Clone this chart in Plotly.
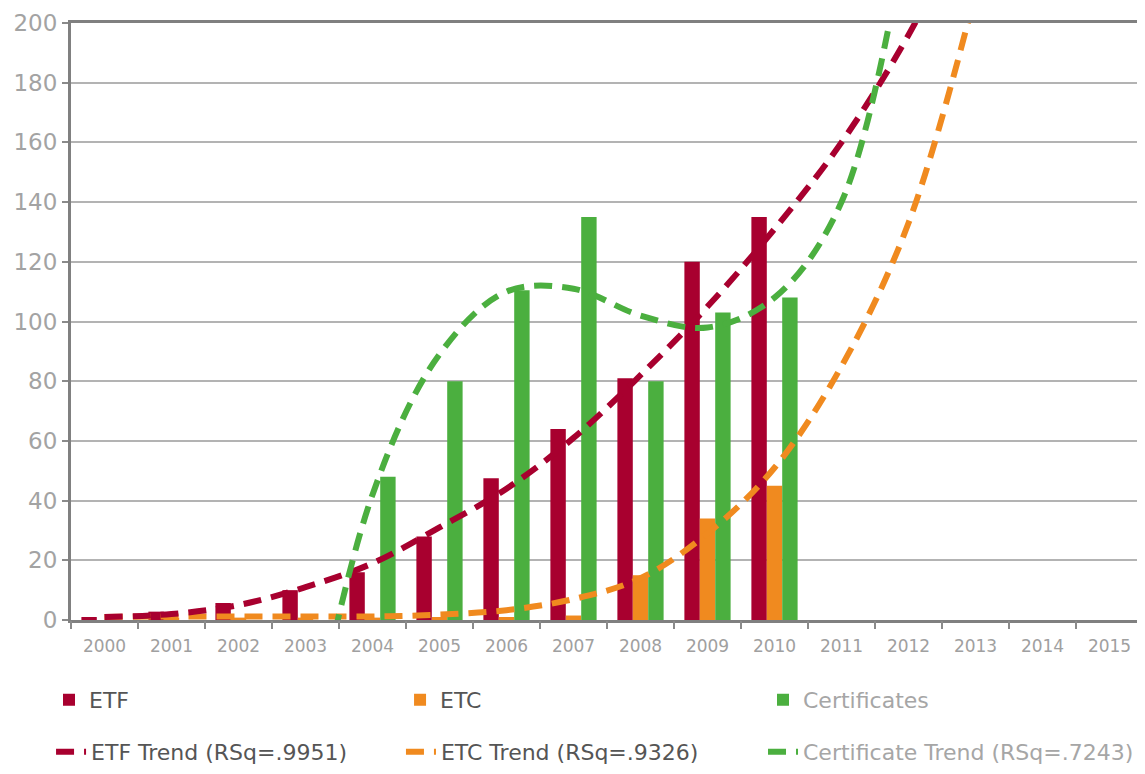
import plotly.graph_objects as go

years = [2000, 2001, 2002, 2003, 2004, 2005, 2006, 2007, 2008, 2009, 2010]
etf = [1, 2.8, 5.7, 10, 16, 28, 47.5, 64, 81, 120, 135]
etc = [0, 0.8, 0.8, 0.8, 0.8, 1, 1, 1.5, 15, 34, 45]
certificates = [0, 0, 0, 0, 48, 80, 110.5, 135, 80, 103, 108]

trend_years_etf = [2000, 2001, 2002, 2003, 2004, 2005, 2006, 2007, 2008, 2009, 2010, 2011, 2012, 2013]
etf_trend = [1, 2, 5, 11, 19, 31, 44, 61, 82, 105, 131, 160, 196, 240]
trend_years_etc = [2000, 2001, 2002, 2003, 2004, 2005, 2006, 2007, 2008, 2009, 2010, 2011, 2012, 2013]
etc_trend = [1, 1.2, 1.2, 1.2, 1.2, 1.8, 3.3, 7, 14, 29, 51, 85, 133, 210]
trend_years_cert = [2003, 2004, 2005, 2006, 2007, 2008, 2009, 2010, 2011, 2012]
cert_trend = [-50, 42, 89, 110, 111, 102, 98, 108, 140, 235]

x_labels = [str(y) for y in range(2000, 2016)]
y_ticks = [0, 20, 40, 60, 80, 100, 120, 140, 160, 180, 200]

C_ETF = "#A8002F"
C_ETC = "#F08A1F"
C_CERT = "#4BAF3F"
DARK = "#555555"
LIGHT = "#a6a6a6"
FONT = "DejaVu Sans"

fig = go.Figure()
fig.add_trace(go.Bar(x=years, y=etf, name=f"<span style='color:{DARK}'>ETF</span>",
                     marker=dict(color=C_ETF, line=dict(width=0)), legend="legend"))
fig.add_trace(go.Bar(x=years, y=etc, name=f"<span style='color:{DARK}'>ETC</span>",
                     marker=dict(color=C_ETC, line=dict(width=0)), legend="legend2"))
fig.add_trace(go.Bar(x=years, y=certificates, name=f"<span style='color:{LIGHT}'>Certificates</span>",
                     marker=dict(color=C_CERT, line=dict(width=0)), legend="legend3"))

dash = "18px,10px"
LW = 6
fig.add_trace(go.Scatter(x=trend_years_etc, y=etc_trend, mode="lines",
                         name=f"<span style='color:{DARK}'>ETC Trend (RSq=.9326)</span>",
                         line=dict(color=C_ETC, width=LW, dash=dash, shape="spline"),
                         legend="legend5"))
fig.add_trace(go.Scatter(x=trend_years_etf, y=etf_trend, mode="lines",
                         name=f"<span style='color:{DARK}'>ETF Trend (RSq=.9951)</span>",
                         line=dict(color=C_ETF, width=LW, dash=dash, shape="spline"),
                         legend="legend4"))
fig.add_trace(go.Scatter(x=trend_years_cert, y=cert_trend, mode="lines",
                         name=f"<span style='color:{LIGHT}'>Certificate Trend (RSq=.7243)</span>",
                         line=dict(color=C_CERT, width=LW, dash=dash, shape="spline"),
                         legend="legend6"))

# invisible trace carrying the axis with boundary tick marks
fig.add_trace(go.Scatter(x=[1999.5], y=[0], mode="markers", marker=dict(opacity=0),
                         showlegend=False, hoverinfo="skip", xaxis="x2"))


def leg(x, y):
    return dict(orientation="v", xref="container", x=x, xanchor="left",
                yref="container", y=y, yanchor="middle",
                font=dict(family=FONT, size=22, color=DARK), bgcolor="rgba(0,0,0,0)")


row1, row2 = 0.106, 0.0388
rng = [1999.5, 2015.5]
fig.update_layout(
    width=1145, height=774,
    margin=dict(l=63, r=10, t=15, b=162, autoexpand=False),
    paper_bgcolor="white", plot_bgcolor="white",
    barmode="group", bargap=0.31, bargroupgap=0,
    font=dict(family=FONT, color=DARK),
    xaxis=dict(range=rng, tickmode="array", tickvals=list(range(2000, 2016)), ticktext=x_labels,
               ticks="", showgrid=False, zeroline=False,
               showline=True, mirror=True, linecolor="#808080", linewidth=3,
               tickfont=dict(family="DejaVu Sans", size=17, color="#a0a0a0"), ticklabelstandoff=9),
    xaxis2=dict(range=rng, overlaying="x", anchor="y", side="bottom",
                tickmode="array", tickvals=[1999.5 + i for i in range(17)],
                ticktext=["" for _ in range(17)], ticks="outside", ticklen=8, tickwidth=1.5,
                tickcolor="#8a8a8a", showgrid=False, zeroline=False, showline=False),
    yaxis=dict(range=[0, 200], tickmode="array", tickvals=y_ticks, ticks="outside", ticklen=6,
               tickwidth=1.5, tickcolor="#8a8a8a",
               showgrid=True, gridcolor="#b3b3b3", gridwidth=1.5, zeroline=False,
               showline=True, linecolor="#808080", linewidth=3,
               tickfont=dict(family="DejaVu Sans", size=23, color="#a3a3a3")),
    legend=leg(0.0358, row1),
    legend2=leg(0.3424, row1),
    legend3=leg(0.6594, row1),
    legend4=leg(0.0376, row2),
    legend5=leg(0.3432, row2),
    legend6=leg(0.6594, row2),
)

fig.write_html("out.html")
